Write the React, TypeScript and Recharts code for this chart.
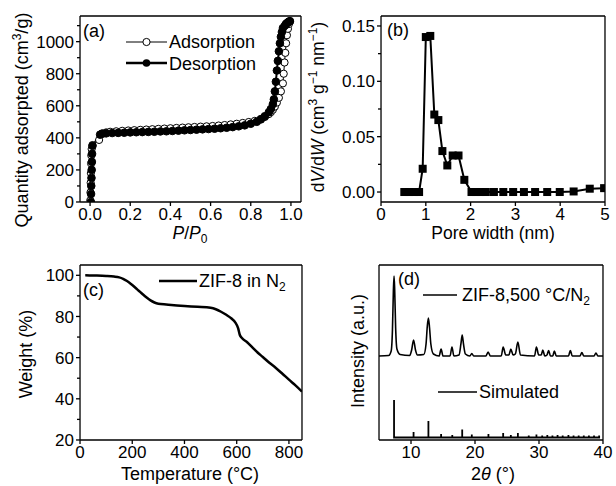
import { LineChart, Line, XAxis, YAxis } from "recharts";

const FONT = "Arial, 'Liberation Sans', Helvetica, sans-serif";
const W = 616;
const H = 486;
const TINY = 0.01;

// (a) N2 isotherm
const ADS_P = [0.001, 0.002, 0.003, 0.004, 0.005, 0.006, 0.008, 0.012, 0.045, 0.06, 0.08, 0.1, 0.13, 0.16, 0.19, 0.22, 0.25, 0.28, 0.31, 0.34, 0.37, 0.4, 0.43, 0.46, 0.49, 0.52, 0.55, 0.58, 0.61, 0.64, 0.67, 0.7, 0.73, 0.76, 0.79, 0.82, 0.85, 0.87, 0.89, 0.9, 0.91, 0.92, 0.93, 0.94, 0.95, 0.96, 0.964, 0.968, 0.972, 0.976, 0.98, 0.985, 0.99, 0.995];
const ADS_Q = [10, 60, 120, 180, 240, 290, 330, 355, 387, 428, 434, 438, 441, 444, 446, 448, 450, 452, 454, 456, 458, 460, 462, 464, 466, 468, 470, 472, 474, 477, 480, 484, 488, 493, 499, 506, 518, 530, 548, 560, 575, 595, 620, 650, 690, 740, 800, 870, 930, 990, 1040, 1080, 1110, 1125];
const DES_P = [0.995, 0.99, 0.985, 0.98, 0.975, 0.97, 0.96, 0.955, 0.95, 0.945, 0.94, 0.935, 0.93, 0.925, 0.92, 0.915, 0.91, 0.9, 0.89, 0.87, 0.85, 0.83, 0.8, 0.77, 0.74, 0.71, 0.68, 0.65, 0.62, 0.59, 0.56, 0.53, 0.5, 0.47, 0.44, 0.41, 0.38, 0.35, 0.32, 0.29, 0.26, 0.23, 0.2, 0.17, 0.14, 0.11, 0.08, 0.06, 0.05, 0.012, 0.01, 0.009, 0.008, 0.007, 0.006, 0.005, 0.004];
const DES_Q = [1128, 1125, 1120, 1115, 1110, 1100, 1085, 1060, 1030, 990, 940, 880, 820, 750, 690, 640, 610, 580, 560, 535, 515, 500, 488, 478, 472, 467, 463, 460, 457, 455, 453, 451, 449, 447, 445, 443, 441, 440, 438, 437, 436, 435, 434, 432, 431, 430, 428, 425, 420, 350, 300, 250, 200, 150, 100, 50, 0];
const A_XTICKS = [0, 0.2, 0.4, 0.6, 0.8, 1.0];
const A_XMINOR = [0.1, 0.3, 0.5, 0.7, 0.9];
const A_YTICKS = [0, 200, 400, 600, 800, 1000];
const A_YMINOR = [100, 300, 500, 700, 900, 1100];

// (b) pore size distribution
const PSD_W = [0.52, 0.63, 0.74, 0.85, 0.93, 1.0, 1.1, 1.19, 1.28, 1.37, 1.48, 1.6, 1.73, 1.86, 2.02, 2.12, 2.22, 2.34, 2.52, 2.73, 2.95, 3.19, 3.44, 3.71, 3.99, 4.3, 4.66, 4.98];
const PSD_V = [0, 0, 0, 0, 0.021, 0.14, 0.141, 0.07, 0.065, 0.037, 0.024, 0.033, 0.033, 0.011, 0, 0, 0, 0, 0, 0, 0, 0, 0, 0, 0, 0.0005, 0.003, 0.0035];
const B_XTICKS = [0, 1, 2, 3, 4, 5];
const B_XMINOR = [0.5, 1.5, 2.5, 3.5, 4.5];
const B_YTICKS = [0, 0.05, 0.1, 0.15];
const B_YMINOR = [0.025, 0.075, 0.125];

// (c) TGA
const TGA_T = [20, 50, 100, 130, 150, 165, 180, 195, 210, 225, 240, 255, 270, 285, 300, 330, 360, 400, 450, 500, 520, 540, 560, 580, 595, 605, 612, 620, 640, 660, 680, 700, 725, 750, 775, 800, 825, 850];
const TGA_W = [100, 99.9, 99.7, 99.4, 99, 98.3, 97.2, 95.8, 94.2, 92.5, 90.8, 89.2, 87.8, 86.8, 86.2, 85.8, 85.5, 85.1, 84.7, 84.2, 83.5, 82.3, 80.8, 79, 77, 74.5, 71, 69.5, 67.5, 65, 62.5, 60.3, 57.5, 55, 52.2, 49.3, 46.5, 43.5];
const C_XTICKS = [0, 200, 400, 600, 800];
const C_XMINOR = [100, 300, 500, 700];
const C_YTICKS = [20, 40, 60, 80, 100];
const C_YMINOR = [30, 50, 70, 90];

// (d) XRD, experimental trace (arbitrary units)
const XRD_X = [5, 6.5, 6.9, 7.1, 7.25, 7.35, 7.45, 7.6, 7.8, 8.3, 9.8, 10.1, 10.4, 10.7, 11.0, 12.0, 12.35, 12.55, 12.72, 12.9, 13.1, 13.5, 14.4, 14.7, 15.0, 16.1, 16.4, 16.7, 17.5, 17.8, 18.0, 18.2, 18.5, 19.2, 19.5, 19.8, 21.7, 22.05, 22.4, 24.1, 24.4, 24.8, 25.3, 25.6, 25.95, 26.3, 26.7, 27.1, 29.3, 29.6, 29.95, 30.35, 30.6, 30.9, 31.25, 31.5, 31.8, 32.15, 32.4, 32.7, 34.6, 34.9, 35.2, 36.4, 36.7, 37.0, 38.6, 38.9, 39.2, 40];
const XRD_Y = [84, 84.5, 89, 110, 150, 164, 150, 112, 91, 85.5, 84.5, 90, 100, 90, 85, 85.5, 96, 114, 122, 112, 96, 86, 84, 91, 84, 84, 93, 84, 85, 96, 105, 96, 86, 84, 86.5, 84, 84, 88, 84, 84, 93, 85, 85, 91, 85, 86, 98, 85, 84, 93, 85, 85, 90, 84, 85, 89.5, 84, 84, 89, 84, 84, 89.5, 84, 84, 87.5, 84, 84, 87, 84, 84];
// simulated stick pattern
const SIM_POS = [7.35, 10.4, 12.72, 14.7, 16.45, 18.0, 19.5, 22.1, 24.4, 25.6, 26.7, 28.4, 29.6, 30.5, 31.3, 32.1, 32.9, 33.7, 34.6, 35.4, 36.2, 37.0, 37.8, 38.6, 39.4];
const SIM_H = [40, 8, 19, 6, 5, 10.5, 5.5, 6, 7, 5, 7, 4.5, 5.5, 4.5, 5, 4.5, 5, 4.5, 5, 4.5, 4.5, 4.5, 4.5, 4.5, 4.5];
const SIM_BASE = 2.5;
const D_XTICKS = [10, 20, 30, 40];
const D_XMINOR = [5, 15, 25, 35];

const zip = (xs: number[], ys: number[]) => xs.map((x, i) => ({ x, y: ys[i] }));
const sticks = SIM_POS.flatMap((p, i) => [
  { x: p, y: SIM_BASE },
  { x: p, y: SIM_H[i] },
  { x: p, y: SIM_BASE },
]);

const tickStyle = { fill: "#000", fontSize: 17, fontFamily: FONT };
const none = () => "";

type Box = { l: number; r: number; t: number; b: number };

function Panel({
  box, xDomain, yDomain, xTicks, xMinor, yTicks, yMinor, xFmt, yFmt, children,
}: {
  box: Box; xDomain: number[]; yDomain: number[]; xTicks: number[]; xMinor: number[];
  yTicks?: number[]; yMinor?: number[]; xFmt?: (v: number) => string; yFmt?: (v: number) => string;
  children: any;
}) {
  return (
    <LineChart
      width={W}
      height={H}
      margin={{ left: box.l, right: W - box.r, top: box.t, bottom: H - box.b }}
      style={{ position: "absolute", left: 0, top: 0 }}
    >
      <XAxis xAxisId="x" type="number" dataKey="x" domain={xDomain} ticks={xTicks} allowDataOverflow
        height={TINY} tickSize={4} tickMargin={2} stroke="#000" strokeWidth={1.3} tick={tickStyle}
        tickFormatter={xFmt} interval={0} />
      <XAxis xAxisId="xm" type="number" domain={xDomain} ticks={xMinor} allowDataOverflow
        height={TINY} tickSize={3} axisLine={false} stroke="#000" strokeWidth={1.3} tickFormatter={none} interval={0} />
      <XAxis xAxisId="xt" orientation="top" type="number" domain={xDomain} ticks={xTicks} allowDataOverflow
        height={TINY} tick={false} tickLine={false} stroke="#000" strokeWidth={1.3} />
      {yTicks ? (
        <YAxis yAxisId="y" type="number" dataKey="y" domain={yDomain} ticks={yTicks} allowDataOverflow
          width={TINY} tickSize={4} tickMargin={2} stroke="#000" strokeWidth={1.3} tick={tickStyle}
          tickFormatter={yFmt} interval={0} />
      ) : (
        <YAxis yAxisId="y" type="number" dataKey="y" domain={yDomain} ticks={[yDomain[0], yDomain[1]]} allowDataOverflow
          width={TINY} tick={false} tickLine={false} stroke="#000" strokeWidth={1.3} />
      )}
      {yMinor && (
        <YAxis yAxisId="ym" type="number" domain={yDomain} ticks={yMinor} allowDataOverflow
          width={TINY} tickSize={3} axisLine={false} stroke="#000" strokeWidth={1.3} tickFormatter={none} interval={0} />
      )}
      <YAxis yAxisId="yr" orientation="right" type="number" domain={yDomain} ticks={[yDomain[0], yDomain[1]]} allowDataOverflow
        width={TINY} tick={false} tickLine={false} stroke="#000" strokeWidth={1.3} />
      {children}
    </LineChart>
  );
}

const Square = (props: any) => {
  const { cx, cy, key } = props;
  if (cx == null || cy == null) return <g key={key} />;
  return <rect key={key} x={cx - 4} y={cy - 4} width={8} height={8} fill="#000" />;
};

export default function App() {
  const ads = zip(ADS_P, ADS_Q);
  const des = zip(DES_P, DES_Q);
  const psd = zip(PSD_W, PSD_V);
  const tga = zip(TGA_T, TGA_W);
  const xrd = zip(XRD_X, XRD_Y);

  return (
    <div style={{ position: "absolute", left: 0, top: 0, width: W, height: H, background: "#fff", fontFamily: FONT }}>
      <Panel box={{ l: 80, r: 301, t: 16, b: 202 }} xDomain={[-0.05, 1.05]} yDomain={[0, 1160]}
        xTicks={A_XTICKS} xMinor={A_XMINOR} yTicks={A_YTICKS} yMinor={A_YMINOR} xFmt={(v) => v.toFixed(1)}>
        <Line xAxisId="x" yAxisId="y" data={ads} dataKey="y" stroke="#000" strokeWidth={1}
          dot={{ r: 3.6, fill: "#fff", stroke: "#000", strokeWidth: 1 }} isAnimationActive={false} />
        <Line xAxisId="x" yAxisId="y" data={des} dataKey="y" stroke="#000" strokeWidth={2}
          dot={{ r: 3.8, fill: "#000", stroke: "#000", strokeWidth: 1 }} isAnimationActive={false} />
      </Panel>

      <Panel box={{ l: 381, r: 605, t: 16, b: 202 }} xDomain={[0, 5]} yDomain={[-0.009, 0.159]}
        xTicks={B_XTICKS} xMinor={B_XMINOR} yTicks={B_YTICKS} yMinor={B_YMINOR} yFmt={(v) => v.toFixed(2)}>
        <Line xAxisId="x" yAxisId="y" data={psd} dataKey="y" stroke="#000" strokeWidth={2}
          dot={Square} isAnimationActive={false} />
      </Panel>

      <Panel box={{ l: 80, r: 302, t: 265, b: 440 }} xDomain={[0, 850]} yDomain={[20, 105]}
        xTicks={C_XTICKS} xMinor={C_XMINOR} yTicks={C_YTICKS} yMinor={C_YMINOR}>
        <Line xAxisId="x" yAxisId="y" data={tga} dataKey="y" type="monotone" stroke="#000" strokeWidth={2.5}
          dot={false} isAnimationActive={false} />
      </Panel>

      <Panel box={{ l: 379, r: 603, t: 265, b: 440 }} xDomain={[5, 40]} yDomain={[0, 175]}
        xTicks={D_XTICKS} xMinor={D_XMINOR}>
        <Line xAxisId="x" yAxisId="y" data={xrd} dataKey="y" type="monotone" stroke="#000" strokeWidth={1.6}
          dot={false} isAnimationActive={false} />
        <Line xAxisId="x" yAxisId="y" data={sticks} dataKey="y" type="linear" stroke="#000" strokeWidth={1.8}
          dot={false} isAnimationActive={false} />
      </Panel>

      <svg width={W} height={H} style={{ position: "absolute", left: 0, top: 0, pointerEvents: "none" }}
        fontFamily={FONT} fontSize={17.5} fill="#000">
        {/* (a) */}
        <text x={83} y={37} fontSize={18}>(a)</text>
        <line x1={126} x2={167} y1={42} y2={42} stroke="#000" strokeWidth={1} />
        <circle cx={146.5} cy={42} r={3.6} fill="#fff" stroke="#000" />
        <text x={169} y={48} fontSize={18}>Adsorption</text>
        <line x1={126} x2={167} y1={63} y2={63} stroke="#000" strokeWidth={2.5} />
        <circle cx={146.5} cy={63} r={3.8} fill="#000" />
        <text x={169} y={69.5} fontSize={18}>Desorption</text>
        <text x={190} y={238.5} textAnchor="middle">
          <tspan fontStyle="italic">P</tspan>/<tspan fontStyle="italic">P</tspan>
          <tspan fontSize={12} dy={4}>0</tspan>
        </text>
        <text transform="translate(28,120) rotate(-90)" textAnchor="middle" fontSize={18}>
          Quantity adsorpted (cm<tspan fontSize={12} dy={-7}>3</tspan><tspan dy={7}>/g)</tspan>
        </text>

        {/* (b) */}
        <text x={387} y={36} fontSize={18}>(b)</text>
        <text x={493} y={238.5} textAnchor="middle">Pore width (nm)</text>
        <text transform="translate(324,107) rotate(-90)" textAnchor="middle">
          d<tspan fontStyle="italic">V</tspan>/d<tspan fontStyle="italic">W</tspan> (cm
          <tspan fontSize={12} dy={-7}>3</tspan><tspan dy={7}> g</tspan>
          <tspan fontSize={12} dy={-7}>−1</tspan><tspan dy={7}> nm</tspan>
          <tspan fontSize={12} dy={-7}>−1</tspan><tspan dy={7}>)</tspan>
        </text>

        {/* (c) */}
        <text x={83} y={296} fontSize={18}>(c)</text>
        <line x1={159} x2={197} y1={281} y2={281} stroke="#000" strokeWidth={2.5} />
        <text x={199} y={287} fontSize={18}>ZIF-8 in N<tspan fontSize={12} dy={4}>2</tspan></text>
        <text x={190} y={480} textAnchor="middle" fontSize={18}>Temperature (°C)</text>
        <text transform="translate(32,354) rotate(-90)" textAnchor="middle" fontSize={18}>Weight (%)</text>

        {/* (d) */}
        <text x={398} y={285} fontSize={18}>(d)</text>
        <line x1={423} x2={457} y1={295} y2={295} stroke="#000" strokeWidth={1.5} />
        <text x={462} y={301} fontSize={18}>ZIF-8,500 °C/N<tspan fontSize={12} dy={4}>2</tspan></text>
        <line x1={438} x2={477} y1={392} y2={392} stroke="#000" strokeWidth={1.5} />
        <text x={479} y={398} fontSize={18}>Simulated</text>
        <text x={493} y={480} textAnchor="middle" fontSize={18}>
          2<tspan fontStyle="italic">θ</tspan> (°)
        </text>
        <text transform="translate(364,351) rotate(-90)" textAnchor="middle" fontSize={18}>Intensity (a.u.)</text>
      </svg>
    </div>
  );
}
